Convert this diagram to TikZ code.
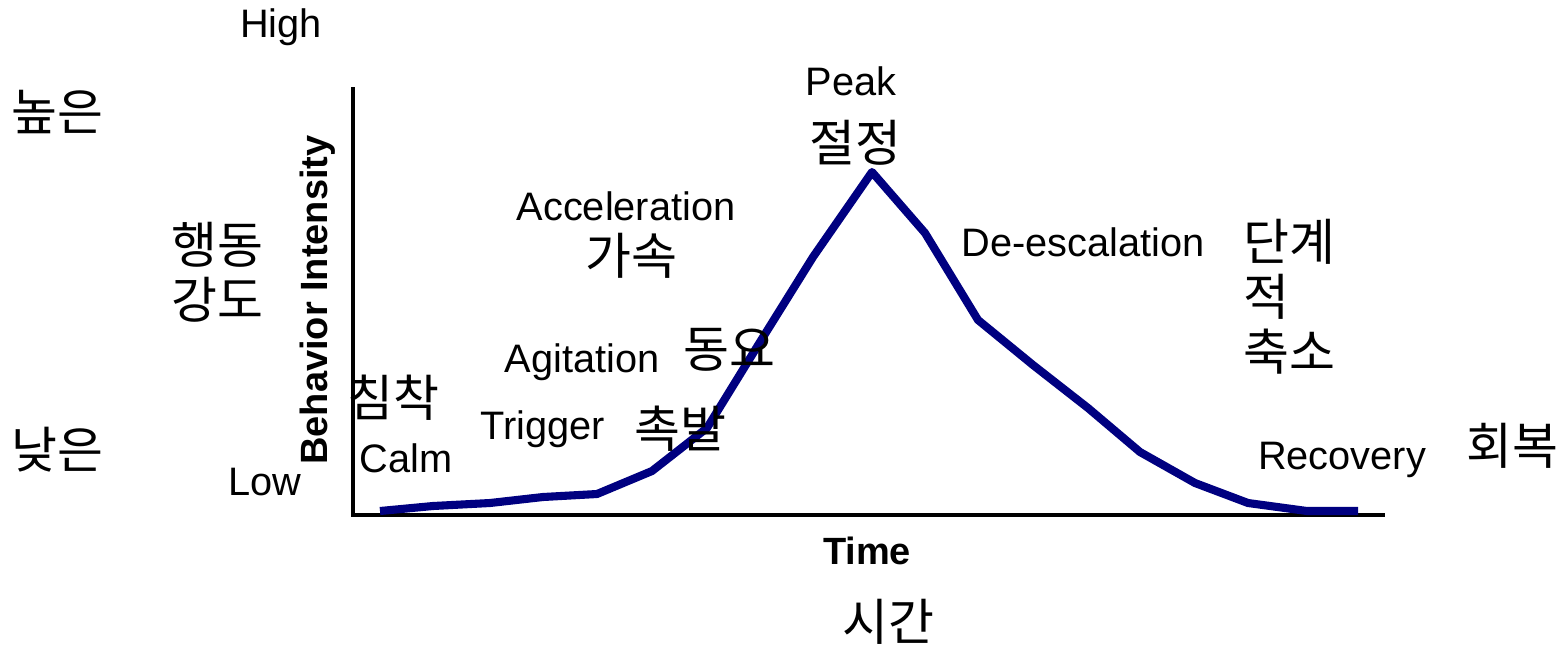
\documentclass[tikz,border=0pt]{standalone}
\usepackage{fontspec}
\setmainfont{Liberation Sans}
\newfontfamily\kor{Noto Sans CJK KR}
\usepackage{tikz}
\definecolor{curveblue}{HTML}{000080}
\tikzset{
  lbl/.style={inner sep=0pt,font=\fontsize{11.3}{13}\selectfont},
  klbl/.style={inner sep=0pt,font=\kor\fontsize{14.2}{15.6}\selectfont},
}

\begin{document}
\begin{tikzpicture}[x=0.01cm,y=-0.01cm]
  \useasboundingbox (0,0) rectangle (1564,648);
  \draw[line width=1.4pt] (353,87) -- (353,515) -- (1385,515);
  \draw[line width=2.3pt,curveblue,line join=round] plot coordinates {(380,511) (433,506) (490,503) (543,497) (597,494) (652,471) (707,428) (760,342) (813,257) (872,172) (925,233) (978,320) (1033,365) (1088,408) (1140,452) (1195,483) (1248,503) (1307,511) (1358,511)};
  % axis labels
  \node[lbl] (high) at (281,27) {High};
  \node[lbl] (low) at (265,482) {Low};
  \node[klbl] (highk) at (57,112) {높은};
  \node[klbl] (lowk) at (57,450) {낮은};
  \node[klbl,align=center] (intk) at (217,272) {행동\\강도};
  \node[lbl,font=\fontsize{10.8}{12}\selectfont\bfseries,rotate=90] (int) at (318,300) {Behavior Intensity};
  \node[lbl,font=\fontsize{10.8}{12}\selectfont\bfseries] (time) at (867,551) {Time};
  \node[klbl] (timek) at (888,622) {시간};
  % phases
  \node[klbl] (calmk) at (393,398) {침착};
  \node[lbl] (calm) at (406,458) {Calm};
  \node[lbl] (trig) at (543,429) {Trigger};
  \node[klbl] (trigk) at (680,429) {촉발};
  \node[lbl] (agit) at (582,362) {Agitation};
  \node[klbl] (agitk) at (729,350) {동요};
  \node[lbl] (acc) at (626,206) {Acceleration};
  \node[klbl] (acck) at (631,256) {가속};
  \node[lbl] (peak) at (851,81) {Peak};
  \node[klbl] (peakk) at (855,143) {절정};
  \node[lbl] (desc) at (1083,242) {De-escalation};
  \node[klbl,align=left,anchor=west] (desck) at (1243,297) {단계\\적\\축소};
  \node[lbl] (rec) at (1342,460) {Recovery};
  \node[klbl] (reck) at (1512,446) {회복};
\end{tikzpicture}
\end{document}
